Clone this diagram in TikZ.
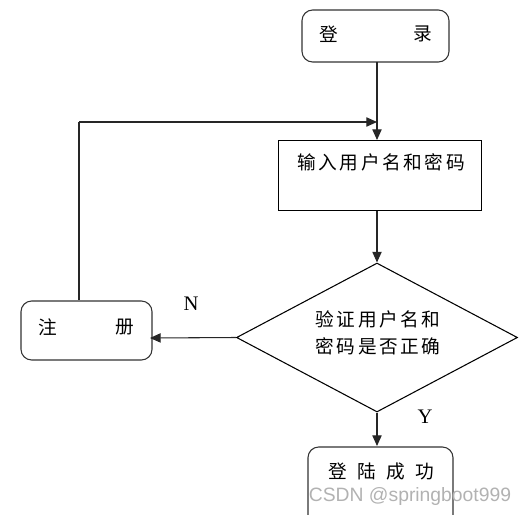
\documentclass[tikz,border=0pt]{standalone}
\usepackage{fontspec}
\setmainfont{Liberation Serif}
\newfontfamily\cjk[LetterSpace=14]{Noto Sans CJK SC}
\newfontfamily\wmfont{Liberation Sans}
\usetikzlibrary{arrows.meta,shapes.geometric}
\tikzset{
  px/.style={x=0.75pt,y=-0.75pt},
  flowline/.style={line width=0.8pt,draw=black!85},
  arr/.style={flowline,-{Triangle[length=8pt,width=7pt]}},
  rbox/.style={draw=black!80,line width=0.8pt,rounded corners=8pt},
  sbox/.style={draw=black,line width=0.8pt},
  cjktxt/.style={font=\cjk\fontsize{14}{21}\selectfont,inner sep=0pt},
  lbl/.style={font=\fontsize{15.5}{17}\selectfont,inner sep=0pt}
}
\begin{document}
\begin{tikzpicture}[px]
\useasboundingbox (0,0) rectangle (524,514);
\clip (0,0) rectangle (524,514);
% login box
\draw[rbox] (302,10) rectangle (449,62);
\node[cjktxt] (l1) at (329,34) {登};
\node[cjktxt] (l2) at (423,34) {录};
\coordinate (loginb) at (377,62);
% input box
\node[sbox,minimum width=203*0.75pt,minimum height=70*0.75pt,anchor=north west,inner sep=0pt] (input) at (278,140) {};
\node[cjktxt] (inputtxt) at (381,162) {输入用户名和密码};
% diamond
\node[draw=black,line width=0.8pt,diamond,minimum width=281*0.75pt,minimum height=149*0.75pt,inner sep=0pt] (check) at (377,337.5) {};
\node[cjktxt,align=center] (checktxt) at (378,333) {验证用户名和\\[-1pt]密码是否正确};
% register box
\draw[rbox] (21,301) rectangle (152,360);
\node[cjktxt] (r1) at (48,327) {注};
\node[cjktxt] (r2) at (125,327) {册};
\coordinate (regr) at (150,338);
\coordinate (regt) at (79,300);
\coordinate (corner) at (79,122);
\coordinate (join) at (377,122);
% success box
\draw[rbox] (308,447) rectangle (453,540);
\node[cjktxt] (succ) at (381,471) {登\hspace{0.55em}陆\hspace{0.55em}成\hspace{0.55em}功};
% connectors
\draw[arr] (loginb) -- (input.north -| loginb);
\draw[flowline] (regt) -- (corner);
\draw[arr] (corner) -- (join);
\draw[arr] (input.south -| check.north) -- (check.north);
\draw[arr] (check.west) -- (regr);
\draw[arr] (check.south) -- (377,446);
% labels
\node[lbl] (N) at (191,304) {N};
\node[lbl] (Y) at (425,417) {Y};
% watermark
\node[font=\wmfont\fontsize{14.5}{16}\selectfont,text=black!30,inner sep=0pt] (wm) at (410,496) {CSDN @springboot999};
\end{tikzpicture}
\end{document}
